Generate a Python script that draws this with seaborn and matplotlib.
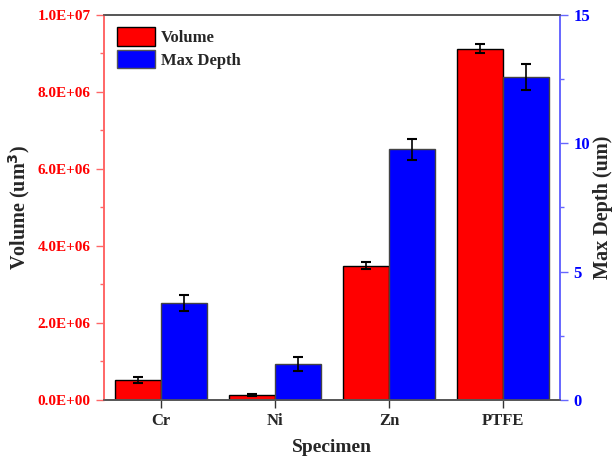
import matplotlib
matplotlib.use("Agg")
import matplotlib.pyplot as plt
import seaborn as sns
import pandas as pd
import numpy as np
from matplotlib.ticker import MultipleLocator, FuncFormatter
from matplotlib.patches import Patch

specimens = ["Cr", "Ni", "Zn", "PTFE"]
volume = [0.52e6, 0.13e6, 3.49e6, 9.12e6]
volume_err = [0.07e6, 0.02e6, 0.08e6, 0.12e6]
max_depth = [3.79, 1.40, 9.77, 12.58]
max_depth_err = [0.31, 0.26, 0.41, 0.49]
series = ["Volume", "Max Depth"]
colors = ["#FF0000", "#0000FF"]

sns.set_style("ticks")
plt.rcParams['font.family'] = ['Liberation Serif', 'DejaVu Serif']
plt.rcParams['font.weight'] = 'bold'

df_vol = pd.DataFrame({"Specimen": specimens * 2,
                       "Series": ["Volume"] * 4 + ["Max Depth"] * 4,
                       "Value": volume + [np.nan] * 4})
df_dep = pd.DataFrame({"Specimen": specimens * 2,
                       "Series": ["Volume"] * 4 + ["Max Depth"] * 4,
                       "Value": [np.nan] * 4 + max_depth})

fig = plt.figure(figsize=(6.12, 4.65), dpi=100)
ax = fig.add_axes([0.170, 0.140, 0.745, 0.828])
ax2 = ax.twinx()

sns.barplot(data=df_vol, x="Specimen", y="Value", hue="Series", hue_order=series,
            order=specimens, palette=colors, ax=ax, errorbar=None,
            edgecolor="black", linewidth=1.0, legend=False, saturation=1)
sns.barplot(data=df_dep, x="Specimen", y="Value", hue="Series", hue_order=series,
            order=specimens, palette=colors, ax=ax2, errorbar=None,
            edgecolor="#444444", linewidth=1.0, legend=False, saturation=1)

def centers(axis):
    ps = sorted([p for p in axis.patches if p.get_height() > 0 and not np.isnan(p.get_height())],
                key=lambda p: p.get_x())
    return [p.get_x() + p.get_width() / 2 for p in ps]

ax.errorbar(centers(ax), volume, yerr=volume_err, fmt="none", ecolor="black",
            elinewidth=1.2, capsize=3.5, capthick=1.5, zorder=5)
ax2.errorbar(centers(ax2), max_depth, yerr=max_depth_err, fmt="none", ecolor="black",
             elinewidth=1.2, capsize=3.5, capthick=1.5, zorder=5)

ax.set_xlim(-0.5, 3.5)
ax.set_ylim(0, 1e7)
ax2.set_ylim(0, 15)

ax.yaxis.set_major_locator(MultipleLocator(2e6))
ax.yaxis.set_minor_locator(MultipleLocator(1e6))
ax.yaxis.set_major_formatter(FuncFormatter(lambda v, p: "%.1E" % v))
ax2.yaxis.set_major_locator(MultipleLocator(5))
ax2.yaxis.set_minor_locator(MultipleLocator(2.5))

ax.set_xlabel("Specimen", fontsize=14, fontweight="bold", labelpad=7)
ax.set_ylabel("Volume (um$^\\mathbf{3}$)", fontsize=14.5, fontweight="bold", labelpad=4)
ax2.set_ylabel("Max Depth (um)", fontsize=14.5, fontweight="bold", labelpad=2)

for t in ax.get_xticklabels():
    t.set_fontsize(12); t.set_fontweight("bold")
for t in ax.get_yticklabels():
    t.set_fontsize(11); t.set_fontweight("bold"); t.set_color("#FF0000")
for t in ax2.get_yticklabels():
    t.set_fontsize(12); t.set_fontweight("bold"); t.set_color("#0000FF")

ax.tick_params(axis="x", direction="out", length=6, width=1, color="#333333")
ax.tick_params(axis="y", which="major", direction="out", length=6, width=1, color="#FF6666")
ax.tick_params(axis="y", which="minor", direction="out", length=3, width=1, color="#FF6666")
ax2.tick_params(axis="y", which="major", direction="out", length=6, width=1, color="#6666FF")
ax2.tick_params(axis="y", which="minor", direction="out", length=3, width=1, color="#6666FF")

for a in (ax, ax2):
    a.spines["top"].set_visible(True)
    a.spines["top"].set_color("#555555")
    a.spines["bottom"].set_color("#555555")
    a.spines["left"].set_color("#FF6666")
    a.spines["right"].set_color("#6666FF")
    for s in a.spines.values():
        s.set_linewidth(1.2)

handles = [Patch(facecolor=colors[0], edgecolor="black"),
           Patch(facecolor=colors[1], edgecolor="#555555")]
ax2.legend(handles, series, loc="upper left", frameon=False,
           prop={"family": "Liberation Serif", "weight": "bold", "size": 12},
           handlelength=2.3, handleheight=1.3, labelspacing=0.25,
           handletextpad=0.35, borderaxespad=0.35)

fig.savefig("out.png", dpi=100)
